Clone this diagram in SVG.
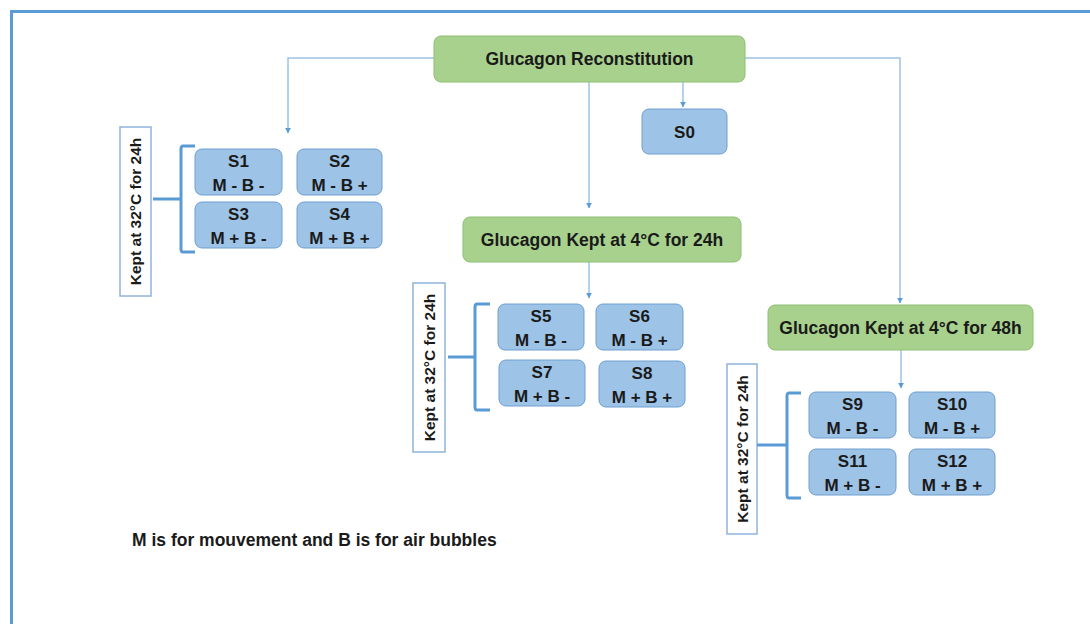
<svg xmlns="http://www.w3.org/2000/svg" width="1090" height="624" viewBox="0 0 1090 624">
  <defs>
    <marker id="arr" viewBox="0 0 10 10" refX="9" refY="5" markerWidth="6" markerHeight="6" orient="auto" markerUnits="userSpaceOnUse">
      <path d="M0,0 L10,5 L0,10 z" fill="#5b9bd5"/>
    </marker>
    <style>
      .frame { fill: none; stroke: #5b9bd5; stroke-width: 3; }
      .green { fill: #a9d18e; stroke: #8cbf73; stroke-width: 1; }
      .blue { fill: #9dc3e6; stroke: #6e9fcf; stroke-width: 1; }
      .lbl { fill: #ffffff; stroke: #8eb4dc; stroke-width: 1.5; }
      .brace { fill: none; stroke: #5b9bd5; stroke-width: 3; stroke-linejoin: round; }
      .conn { fill: none; stroke: #9dc3e6; stroke-width: 1.5; }
      text { font-family: "Liberation Sans", Arial, sans-serif; font-weight: bold; fill: #1a1a1a; text-anchor: middle; }
      .t16 { font-size: 17.5px; }
      .t14 { font-size: 17px; }
      .rot { font-size: 15.5px; }
      .note { font-size: 17.5px; text-anchor: start; }
    </style>
  </defs>

  <rect width="1090" height="624" fill="#ffffff"/>
  <path class="frame" d="M11.5,624 V11.5 H1090"/>

  <g id="connectors">
    <path class="conn" d="M434,58 H288 V133" marker-end="url(#arr)"/>
    <path class="conn" d="M745,58 H900 V303" marker-end="url(#arr)"/>
    <path class="conn" d="M589,82 V208" marker-end="url(#arr)"/>
    <path class="conn" d="M683,82 V107" marker-end="url(#arr)"/>
    <path class="conn" d="M589,262 V298" marker-end="url(#arr)"/>
    <path class="conn" d="M901,350 V388" marker-end="url(#arr)"/>
  </g>

  <g id="reconstitution">
    <rect class="green" x="434" y="36" width="311" height="46" rx="7"/>
    <text class="t16" x="589.5" y="65">Glucagon Reconstitution</text>
  </g>
  <g id="s0">
    <rect class="blue" x="642" y="109" width="85" height="45" rx="7"/>
    <text class="t14" x="684.5" y="138">S0</text>
  </g>
  <g id="kept24">
    <rect class="green" x="463" y="217" width="278" height="45" rx="7"/>
    <text class="t16" x="602" y="246">Glucagon Kept at 4°C for 24h</text>
  </g>
  <g id="kept48">
    <rect class="green" x="768" y="305" width="265" height="45" rx="7"/>
    <text class="t16" x="900.5" y="334">Glucagon Kept at 4°C for 48h</text>
  </g>

  <!-- group 1: S1-S4 -->
  <g id="label1">
    <rect class="lbl" x="120" y="127" width="31" height="169"/>
    <text class="rot" transform="translate(141,211.5) rotate(-90)">Kept at 32°C for 24h</text>
  </g>
  <g id="brace1"><path class="brace" d="M195,146 H183 Q181,146 181,149 V249 Q181,252 183,252 H195 M153,199 H181"/></g>
  <g id="s1"><rect class="blue" x="195" y="149" width="87" height="46" rx="7"/><text class="t14" x="238.5" y="167">S1</text><text class="t14" x="238.5" y="191">M - B -</text></g>
  <g id="s2"><rect class="blue" x="297" y="149" width="85" height="46" rx="7"/><text class="t14" x="339.5" y="167">S2</text><text class="t14" x="339.5" y="191">M - B +</text></g>
  <g id="s3"><rect class="blue" x="195" y="202" width="87" height="46" rx="7"/><text class="t14" x="238.5" y="220">S3</text><text class="t14" x="238.5" y="244">M + B -</text></g>
  <g id="s4"><rect class="blue" x="297" y="202" width="85" height="46" rx="7"/><text class="t14" x="339.5" y="220">S4</text><text class="t14" x="339.5" y="244">M + B +</text></g>

  <!-- group 2: S5-S8 -->
  <g id="label2">
    <rect class="lbl" x="413" y="283" width="32" height="169"/>
    <text class="rot" transform="translate(434.5,367.5) rotate(-90)">Kept at 32°C for 24h</text>
  </g>
  <g id="brace2"><path class="brace" d="M490,304 H477 Q475,304 475,307 V407 Q475,410 477,410 H490 M448,357 H475"/></g>
  <g id="s5"><rect class="blue" x="498" y="304" width="86" height="46" rx="7"/><text class="t14" x="541" y="322">S5</text><text class="t14" x="541" y="346">M - B -</text></g>
  <g id="s6"><rect class="blue" x="596" y="304" width="87" height="46" rx="7"/><text class="t14" x="639.5" y="322">S6</text><text class="t14" x="639.5" y="346">M - B +</text></g>
  <g id="s7"><rect class="blue" x="499" y="360" width="86" height="46" rx="7"/><text class="t14" x="542" y="378">S7</text><text class="t14" x="542" y="402">M + B -</text></g>
  <g id="s8"><rect class="blue" x="599" y="361" width="86" height="46" rx="7"/><text class="t14" x="642" y="379">S8</text><text class="t14" x="642" y="403">M + B +</text></g>

  <!-- group 3: S9-S12 -->
  <g id="label3">
    <rect class="lbl" x="727" y="364" width="30" height="170"/>
    <text class="rot" transform="translate(747.5,449) rotate(-90)">Kept at 32°C for 24h</text>
  </g>
  <g id="brace3"><path class="brace" d="M801,393 H789 Q787,393 787,396 V495 Q787,498 789,498 H801 M757,445 H787"/></g>
  <g id="s9"><rect class="blue" x="809" y="392" width="87" height="46" rx="7"/><text class="t14" x="852.5" y="410">S9</text><text class="t14" x="852.5" y="434">M - B -</text></g>
  <g id="s10"><rect class="blue" x="909" y="392" width="86" height="46" rx="7"/><text class="t14" x="952" y="410">S10</text><text class="t14" x="952" y="434">M - B +</text></g>
  <g id="s11"><rect class="blue" x="809" y="449" width="87" height="46" rx="7"/><text class="t14" x="852.5" y="467">S11</text><text class="t14" x="852.5" y="491">M + B -</text></g>
  <g id="s12"><rect class="blue" x="909" y="449" width="86" height="46" rx="7"/><text class="t14" x="952" y="467">S12</text><text class="t14" x="952" y="491">M + B +</text></g>

  <g id="legend">
    <text class="note" x="132" y="546">M is for mouvement and B is for air bubbles</text>
  </g>
</svg>
